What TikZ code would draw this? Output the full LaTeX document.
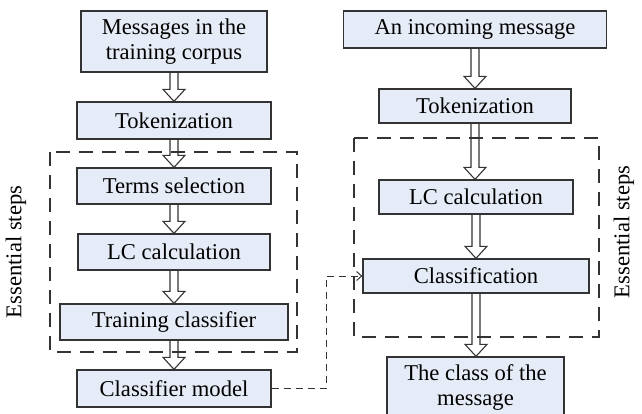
\documentclass[tikz,border=0pt]{standalone}
\usepackage{fontspec}
\setmainfont{Liberation Serif}
\usepackage{xcolor}
\usetikzlibrary{arrows.meta,calc}

\definecolor{boxfill}{HTML}{E6ECF7}
\definecolor{boxline}{HTML}{333333}

\tikzset{
	box/.style = {draw=boxline, line width=1.3pt, fill=boxfill, align=center,
		inner sep=0pt, font=\fontsize{22.6}{25}\selectfont},
	hollow/.style = {draw=boxline, line width=1.1pt,
		to path={let \p1=(\tikztostart), \p2=(\tikztotarget) in
			(\x1-4pt,\y1) -- (\x1-4pt,\y2+12pt) -- (\x1-11pt,\y2+12pt) -- (\x1,\y2)
			-- (\x1+11pt,\y2+12pt) -- (\x1+4pt,\y2+12pt) -- (\x1+4pt,\y1)}},
	stepsbox/.style = {draw=boxline, line width=1.4pt, dash pattern=on 14pt off 9pt},
	feed/.style = {draw=boxline, line width=1pt, dash pattern=on 7pt off 5pt,
		-{Straight Barb[length=5pt,width=9pt]}},
	steplabel/.style = {rotate=90, font=\fontsize{22.6}{25}\selectfont}
}

\begin{document}
\begin{tikzpicture}[x=1pt, y=-1pt]
			%\draw[help lines] (0,0) grid (642,414);
			\useasboundingbox (0,0) rectangle (642,414);
			
			% training side
			\node[box, minimum width=186pt, minimum height=61pt] (msg)   at (174,41.5) {Messages in the\\training corpus};
			\node[box, minimum width=194pt, minimum height=37pt] (tokA)  at (174,120.5) {Tokenization};
			\node[box, minimum width=194pt, minimum height=36pt] (terms) at (174,186) {Terms selection};
			\node[box, minimum width=192pt, minimum height=36pt] (lcA)   at (174,252) {LC calculation};
			\node[box, minimum width=228pt, minimum height=36pt] (train) at (174,322) {Training classifier};
			\node[box, minimum width=194pt, minimum height=37pt] (model) at (174,388.5) {Classifier model};
			
			% classifying side
			\node[box, minimum width=263pt, minimum height=37pt] (inc)   at (475,29.5) {An incoming message};
			\node[box, minimum width=192pt, minimum height=34pt] (tokB)  at (475,106) {Tokenization};
			\node[box, minimum width=194pt, minimum height=34pt] (lcB)   at (476,197) {LC calculation};
			\node[box, minimum width=226pt, minimum height=34pt] (cls)   at (476,276) {Classification};
			\node[box, minimum width=177pt, minimum height=61pt] (out)   at (475.5,387.5) {The class of the\\message};
			
			\draw[hollow] (msg.south)   to (tokA.north);
			\draw[hollow] (tokA.south)  to (terms.north);
			\draw[hollow] (terms.south) to (lcA.north);
			\draw[hollow] (lcA.south)   to (train.north);
			\draw[hollow] (train.south) to (model.north);
			
			\draw[hollow] (inc.south)   to (tokB.north);
			\draw[hollow] (tokB.south)  to (lcB.north);
			\draw[hollow] (lcB.south)   to (cls.north -| lcB.south);
			\draw[hollow] (cls.south -| lcB.south) to (out.north -| lcB.south);
			
			\draw[stepsbox] (50,152) rectangle (297,352);
			\draw[stepsbox] (354,138) rectangle (599,337);
			
			\node[steplabel] (essA) at (16,252) {Essential steps};
			\node[steplabel] (essB) at (624,232) {Essential steps};
			
			\coordinate (bend) at (326,388.5);
			\draw[feed] (model.east) -- (bend) |- (cls.west);
		\end{tikzpicture}
\end{document}
